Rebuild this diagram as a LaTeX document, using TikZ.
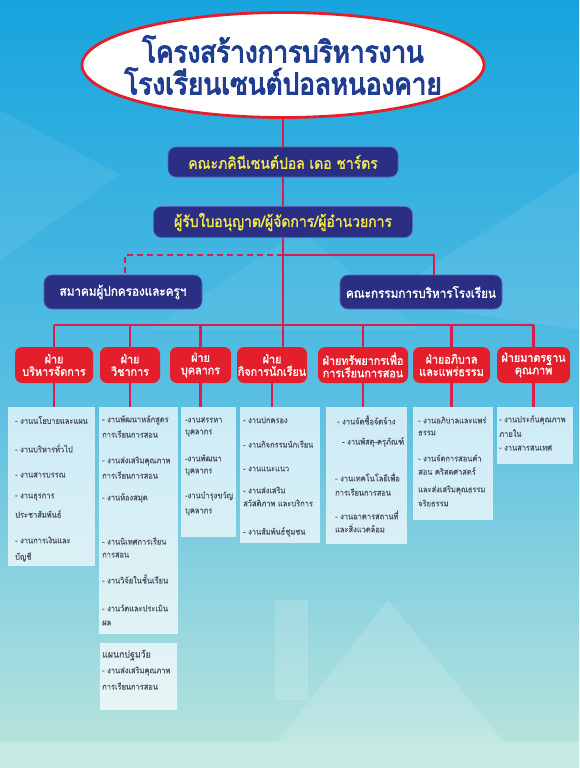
\documentclass[tikz,border=0pt]{standalone}
\usepackage{fontspec}
\usetikzlibrary{shapes.geometric}
\newfontfamily\thai[Script=Thai,FakeStretch=0.88,FakeBold=0.6]{Loma}
\newfontfamily\thaib[Script=Thai,FakeStretch=0.9,FakeBold=1.6]{Loma}
\newfontfamily\thaih[Script=Thai,FakeStretch=0.87,FakeBold=3.4]{Loma}
\definecolor{navy}{HTML}{2B2F83}
\definecolor{navyedge}{HTML}{5A63B5}
\definecolor{redc}{HTML}{E41E2B}
\definecolor{connc}{HTML}{D81E4E}
\definecolor{titleblue}{HTML}{1F3E92}
\definecolor{ylw}{HTML}{F4EA4C}
\definecolor{gtext}{HTML}{4E5264}
\definecolor{bgtop}{HTML}{17A4DE}
\definecolor{bgmid}{HTML}{5ABFE2}
\definecolor{bgbot}{HTML}{BDE6DC}
\begin{document}
\begin{tikzpicture}[x=1pt,y=-1pt,
  conn/.style={draw=connc,line width=2.4pt},
  navybox/.style={fill=navy,draw=navyedge,line width=0.6pt,rounded corners=8pt,inner sep=0pt,font=\thaib\fontsize{15.5}{17}\selectfont},
  navysmall/.style={navybox,font=\thaib\fontsize{13}{15}\selectfont},
  redbox/.style={fill=redc,rounded corners=7pt,inner sep=0pt,minimum height=36pt,align=center,text=white,font=\thaib\fontsize{12}{12.5}\selectfont},
  panel/.style={fill=white,fill opacity=0.7,draw=none,anchor=north west,inner sep=0pt},
  ptext/.style={anchor=west,inner sep=0pt,text=gtext,font=\thai\fontsize{8.5}{10}\selectfont},
  deco/.style={fill=white,fill opacity=#1,draw=none},
]
\shade[top color=bgtop, bottom color=bgmid] (0,0) rectangle (579,400);
\shade[top color=bgmid, bottom color=bgbot] (0,400) rectangle (579,768);
\useasboundingbox (0,0) rectangle (579,768);
% decorative facets
\fill[deco=0.07] (0,110) -- (120,175) -- (0,260) -- cycle;
\fill[deco=0.08] (380,300) -- (579,170) -- (579,330) -- cycle;
\fill[deco=0.06] (150,330) -- (300,230) -- (420,330) -- cycle;
\fill[deco=0.15] (277,742) -- (388,600) -- (504,742) -- cycle;
\fill[deco=0.2] (0,742) rectangle (579,768);
\fill[deco=0.15] (275,600) rectangle (308,700);

% title
\node[ellipse,draw=redc,line width=2.8pt,fill=white,minimum width=402pt,minimum height=105pt,inner sep=0pt] (title) at (283,65) {};
\node[align=center,inner sep=0pt,text=titleblue,font=\thaih\fontsize{30}{32}\selectfont] (titletext) at (title.center) {โครงสร้างการบริหารงาน\\โรงเรียนเซนต์ปอลหนองคาย};

% navy boxes
\node[navybox,minimum width=230pt,minimum height=30pt,text=ylw] (kana) at (283,162) {คณะภคินีเซนต์ปอล เดอ ชาร์ตร};
\node[navybox,minimum width=259pt,minimum height=31pt,text=ylw] (lic) at (283,222) {ผู้รับใบอนุญาต/ผู้จัดการ/ผู้อำนวยการ};
\node[navysmall,minimum width=158pt,minimum height=34pt,text=white] (assoc) at (123,292) {สมาคมผู้ปกครองและครูฯ};
\node[navysmall,minimum width=162pt,minimum height=34pt,text=white] (comm) at (421,292) {คณะกรรมการบริหารโรงเรียน};

% red boxes
\node[redbox,minimum width=78pt] (r1) at (54,365) {ฝ่าย\\บริหารจัดการ};
\node[redbox,minimum width=60pt] (r2) at (130,365) {ฝ่าย\\วิชาการ};
\node[redbox,minimum width=61pt] (r3) at (200.5,365) {ฝ่าย\\บุคลากร};
\node[redbox,minimum width=70pt] (r4) at (272,365) {ฝ่าย\\กิจการนักเรียน};
\node[redbox,minimum width=90pt] (r5) at (363,365) {ฝ่ายทรัพยากรเพื่อ\\การเรียนการสอน};
\node[redbox,minimum width=77pt] (r6) at (451.5,365) {ฝ่ายอภิบาล\\และแพร่ธรรม};
\node[redbox,minimum width=73pt] (r7) at (533.5,365) {ฝ่ายมาตรฐาน\\คุณภาพ};

% panels
\node[panel,minimum width=87pt,minimum height=159pt] (p1) at (8,407) {};
\node[panel,minimum width=79pt,minimum height=227pt] (p2) at (99,407) {};
\node[panel,minimum width=77pt,minimum height=67pt] (p2b) at (100,643) {};
\node[panel,minimum width=55pt,minimum height=130pt] (p3) at (181,407) {};
\node[panel,minimum width=80pt,minimum height=136pt] (p4) at (240,407) {};
\node[panel,minimum width=81pt,minimum height=137pt] (p5) at (326,407) {};
\node[panel,minimum width=80pt,minimum height=113pt] (p6) at (413,407) {};
\node[panel,minimum width=76pt,minimum height=57pt] (p7) at (497,407) {};

% connectors
\coordinate (nj) at (283,255);
\coordinate (njL) at (125,255);
\coordinate (njR) at (434,255);
\coordinate (bus) at (283,325);
\coordinate (busL) at (54,325);
\coordinate (busR) at (533.5,325);
\draw[conn] (title) -- (kana);
\draw[conn] (kana) -- (lic);
\draw[conn] (lic) -- (bus) -- (bus |- r4.north);
\draw[conn] (nj) -- (njR) -- (njR |- comm.north);
\draw[conn,dash pattern=on 6pt off 4pt] (nj) -- (njL) -- (njL |- assoc.north);
\draw[conn] (busL) -- (busR);
\foreach \r in {r1,r2,r3,r5,r6,r7} \draw[conn] (\r.north |- bus) -- (\r.north);
\foreach \r/\p in {r1/p1,r2/p2,r3/p3,r4/p4,r5/p5,r6/p6,r7/p7} \draw[conn] (\r.south) -- (\r.south |- \p.north);

% panel texts
\foreach \ty/\tx [count=\i] in {420/- งานนโยบายและแผน, 448/- งานบริหารทั่วไป, 475/- งานสารบรรณ, 497/- งานธุรการ, 514/ประชาสัมพันธ์, 540/- งานการเงินและ, 557/บัญชี}
  \node[ptext] (ta\i) at (15,\ty) {\tx};
\foreach \ty/\tx [count=\i] in {420/- งานพัฒนาหลักสูตร, 434/การเรียนการสอน, 461/- งานส่งเสริมคุณภาพ, 475/การเรียนการสอน, 498/- งานห้องสมุด, 541/- งานนิเทศการเรียน, 555/การสอน, 579/- งานวิจัยในชั้นเรียน, 608/- งานวัดและประเมิน, 623/ผล}
  \node[ptext] (tb\i) at (102,\ty) {\tx};
\node[ptext,font=\thai\fontsize{10}{11}\selectfont] (tc1) at (102,655) {แผนกปฐมวัย};
\foreach \ty/\tx [count=\i] in {671/- งานส่งเสริมคุณภาพ, 686/การเรียนการสอน}
  \node[ptext] (tc\i x) at (102,\ty) {\tx};
\foreach \ty/\tx [count=\i] in {420/-งานสรรหา, 433/บุคลากร, 458/-งานพัฒนา, 472/บุคลากร, 496/-งานบำรุงขวัญ, 512/บุคลากร}
  \node[ptext] (td\i) at (185,\ty) {\tx};
\foreach \ty/\tx [count=\i] in {420/- งานปกครอง, 444/- งานกิจกรรมนักเรียน, 469/- งานแนะแนว, 490/- งานส่งเสริม, 503/สวัสดิภาพ และบริการ, 532/- งานสัมพันธ์ชุมชน}
  \node[ptext] (te\i) at (243,\ty) {\tx};
\foreach \ty/\tx/\tz [count=\i] in {420/- งานจัดซื้อจัดจ้าง/337, 442/- งานพัสดุ-ครุภัณฑ์/342, 477/- งานเทคโนโลยีเพื่อ/335, 492/การเรียนการสอน/335, 515/- งานอาคารสถานที่/335, 528/และสิ่งแวดล้อม/335}
  \node[ptext] (tf\i) at (\tz,\ty) {\tx};
\foreach \ty/\tx [count=\i] in {420/- งานอภิบาลและแพร่, 433/ธรรม, 458/- งานจัดการสอนคำ, 471/สอน คริสตศาสตร์, 490/และส่งเสริมคุณธรรม, 503/จริยธรรม}
  \node[ptext] (tg\i) at (418,\ty) {\tx};
\foreach \ty/\tx [count=\i] in {420/- งานประกันคุณภาพ, 433/ภายใน, 448/- งานสารสนเทศ}
  \node[ptext] (th\i) at (499,\ty) {\tx};
\end{tikzpicture}
\end{document}
